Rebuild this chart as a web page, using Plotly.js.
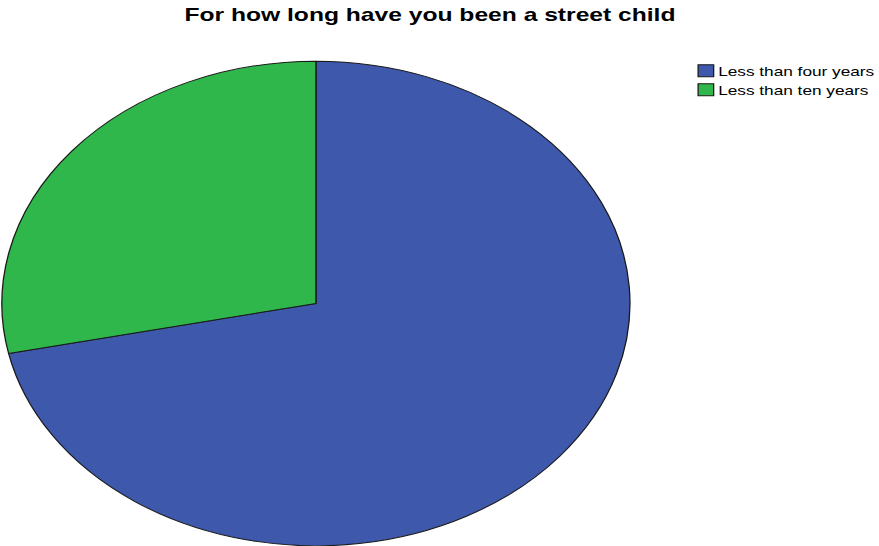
<!DOCTYPE html>
<html>
<head>
<meta charset="utf-8">
<script src="https://cdn.plot.ly/plotly-3.0.1.min.js"></script>
<style>
html,body{margin:0;padding:0;background:#fff;overflow:hidden;width:879px;height:546px;}
#chart{width:760px;height:552px;margin-left:-10px;margin-top:-3px;transform:scaleX(1.296);transform-origin:0 0;}
</style>
</head>
<body>
<div id="chart"></div>
<script>
var categories = ["Less than four years", "Less than ten years"];
var values = [71.7, 28.3];
var colors = ["#3e58ac", "#2fb74b"];

var trace = {
  type: "pie",
  labels: categories,
  values: values,
  sort: false,
  direction: "clockwise",
  rotation: 0,
  textinfo: "none",
  hoverinfo: "label+percent",
  marker: {colors: colors, line: {color: "#1a1a1a", width: 1}},
  domain: {x: [0, 0.6618], y: [0.0057, 0.8837]}
};

var layout = {
  width: 760,
  height: 552,
  margin: {l: 0, r: 0, t: 0, b: 0},
  paper_bgcolor: "#ffffff",
  title: {
    text: "<b>For how long have you been a street child</b>",
    font: {family: "Liberation Sans, Arial, sans-serif", size: 19, color: "#000"},
    x: 0.4467, xanchor: "center", y: 0.969, yanchor: "middle"
  },
  showlegend: true,
  legend: {
    x: 0.7005, xanchor: "left", y: 0.894, yanchor: "top",
    font: {family: "Liberation Sans, Arial, sans-serif", size: 13.3, color: "#000"},
    tracegroupgap: 0, itemwidth: 30
  }
};

Plotly.newPlot("chart", [trace], layout, {displayModeBar: false, staticPlot: true}).then(function (gd) {
  var items = gd.querySelectorAll(".legend .traces");
  var y0 = null;
  items.forEach(function (g, i) {
    var t = g.getAttribute("transform") || "";
    var m = t.match(/translate\(\s*([-\d.]+)[ ,]+([-\d.]+)/);
    if (m) {
      if (y0 === null) y0 = parseFloat(m[2]);
      g.setAttribute("transform", "translate(" + m[1] + "," + (y0 + i * 19) + ")");
    }
    var txt = g.querySelector(".legendtext");
    if (txt) txt.setAttribute("x", 29.5);
  });
});
</script>
</body>
</html>
